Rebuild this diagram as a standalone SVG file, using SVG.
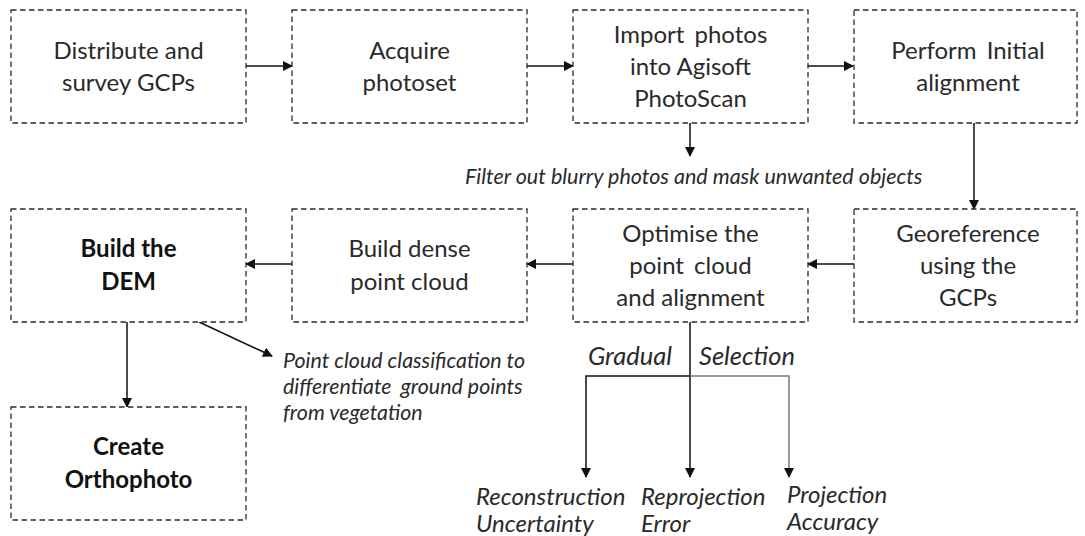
<svg xmlns="http://www.w3.org/2000/svg" width="1085" height="536" viewBox="0 0 1085 536">
<defs>
<style>
.box{fill:#fff;stroke:#2b2b2b;stroke-width:1.3;stroke-dasharray:5.5,3.5}
.t{font-family:Lato,"Open Sans",sans-serif;font-size:24px;fill:#2a2a2a;text-anchor:middle}
.b{font-weight:bold;fill:#111}
.i{font-family:Lato,"Open Sans",sans-serif;font-style:italic;fill:#2a2a2a}
.c{stroke:#111;stroke-width:1.5;fill:none}
.g{stroke:#7a7a7a;stroke-width:1.5;fill:none}
</style>
<marker id="ah" markerWidth="10" markerHeight="10" refX="9" refY="5" orient="auto" markerUnits="userSpaceOnUse" viewBox="0 0 10 10">
<path d="M0,0 L10,5 L0,10 z" fill="#111"/>
</marker>
</defs>
<rect width="1085" height="536" fill="#fff"/>
<g id="connectors">
<line class="c" x1="246" y1="66" x2="292" y2="66" marker-end="url(#ah)"/>
<line class="c" x1="527" y1="66" x2="573" y2="66" marker-end="url(#ah)"/>
<line class="c" x1="808" y1="66" x2="853" y2="66" marker-end="url(#ah)"/>
<line class="c" x1="690" y1="123" x2="690" y2="156" marker-end="url(#ah)"/>
<line class="c" x1="974" y1="123" x2="974" y2="209" marker-end="url(#ah)"/>
<line class="c" x1="854" y1="264" x2="808" y2="264" marker-end="url(#ah)"/>
<line class="c" x1="573" y1="264" x2="527" y2="264" marker-end="url(#ah)"/>
<line class="c" x1="292" y1="264" x2="246" y2="264" marker-end="url(#ah)"/>
<line class="c" x1="127" y1="322" x2="127" y2="407" marker-end="url(#ah)"/>
<line class="c" x1="199" y1="322" x2="272" y2="356" marker-end="url(#ah)"/>
<polyline class="c" points="690,322 690,376 586,376 586,477" marker-end="url(#ah)"/>
<line class="c" x1="690" y1="376" x2="690" y2="477" marker-end="url(#ah)"/>
<polyline class="g" points="690,376 789,376 789,477" marker-end="url(#ah)"/>
</g>
<g id="n1"><rect class="box" x="11" y="10" width="235" height="113"/>
<text class="t" x="128.5" y="59">Distribute and</text><text class="t" x="128.5" y="91">survey GCPs</text></g>
<g id="n2"><rect class="box" x="292" y="10" width="235" height="113"/>
<text class="t" x="409.5" y="59">Acquire</text><text class="t" x="409.5" y="91">photoset</text></g>
<g id="n3"><rect class="box" x="573" y="10" width="235" height="113"/>
<text class="t" x="690.5" y="43">Import <tspan dx="4">photos</tspan></text><text class="t" x="690.5" y="75">into Agisoft</text><text class="t" x="690.5" y="107">PhotoScan</text></g>
<g id="n4"><rect class="box" x="854" y="10" width="223" height="113"/>
<text class="t" x="968" y="59">Perform <tspan dx="4">Initial</tspan></text><text class="t" x="968" y="91">alignment</text></g>
<g id="n5"><rect class="box" x="854" y="209" width="223" height="113"/>
<text class="t" x="968" y="242">Georeference</text><text class="t" x="968" y="274">using the</text><text class="t" x="968" y="306">GCPs</text></g>
<g id="n6"><rect class="box" x="573" y="209" width="235" height="113"/>
<text class="t" x="690.5" y="242">Optimise the</text><text class="t" x="690.5" y="274">point <tspan dx="4">cloud</tspan></text><text class="t" x="690.5" y="306">and alignment</text></g>
<g id="n7"><rect class="box" x="292" y="209" width="235" height="113"/>
<text class="t" x="409.5" y="257">Build dense</text><text class="t" x="409.5" y="290">point cloud</text></g>
<g id="n8"><rect class="box" x="11" y="209" width="235" height="113"/>
<text class="t b" x="128.5" y="257">Build the</text><text class="t b" x="128.5" y="290">DEM</text></g>
<g id="n9"><rect class="box" x="11" y="407" width="235" height="113"/>
<text class="t b" x="128.5" y="455">Create</text><text class="t b" x="128.5" y="488">Orthophoto</text></g>
<g id="labels">
<text class="i" x="465" y="184" font-size="21.5">Filter out blurry photos and mask unwanted objects</text>
<text class="i" x="283" y="368" font-size="21.4">Point cloud classification to</text>
<text class="i" x="283" y="394" font-size="21.4">differentiate <tspan dx="4">ground</tspan> points</text>
<text class="i" x="283" y="420" font-size="21.4">from vegetation</text>
<text class="i" x="588" y="365" font-size="25.5">Gradual</text>
<text class="i" x="699" y="365" font-size="25.5">Selection</text>
<text class="i" x="476" y="505" font-size="24">Reconstruction</text>
<text class="i" x="476" y="532" font-size="24">Uncertainty</text>
<text class="i" x="641" y="505" font-size="24">Reprojection</text>
<text class="i" x="641" y="532" font-size="24">Error</text>
<text class="i" x="787" y="503" font-size="24">Projection</text>
<text class="i" x="787" y="530" font-size="24">Accuracy</text>
</g>
</svg>
